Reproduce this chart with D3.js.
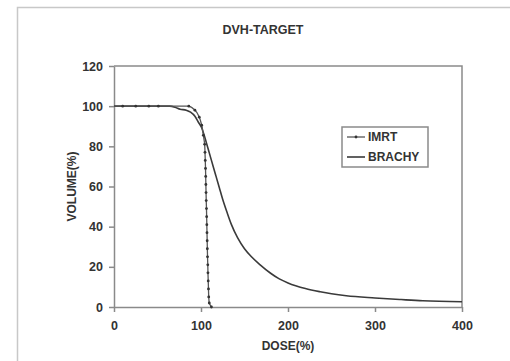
<!DOCTYPE html>
<html>
<head>
<meta charset="utf-8">
<script src="https://cdn.jsdelivr.net/npm/d3@7"></script>
<style>
	body { margin: 0; background: #fff; }
	text { font-family: "Liberation Sans", Arial, sans-serif; fill: #333; }
</style>
</head>
<body>
<div id="chart"></div>
<script>
// IMRT curve (dose %, volume %)
const imrtDose = [0, 10, 25, 40, 51, 86, 93, 98, 100.8, 102.7, 104.2, 104.6, 104.9, 105.2, 105.4, 105.6, 105.8, 106.0, 106.3, 106.5, 106.7, 106.9, 107.1, 107.3, 107.5, 107.8, 108.0, 108.3, 108.6, 108.9, 109.5, 112];
const imrtVolume = [100, 100, 100, 100, 100, 100, 98, 94.5, 90.5, 85.5, 81, 77, 73, 69, 65, 61, 57, 53, 49, 45, 41, 37, 33, 29, 25, 21, 17, 13, 9, 5, 2, 0];

// BRACHY curve
const brachyDose = [0, 64, 70, 76, 83, 88, 93, 97, 101, 104, 108, 112, 117, 121, 125, 130, 135, 142, 150, 158, 168, 180, 190, 200, 220, 237, 250, 267, 300, 330, 355, 400];
const brachyVolume = [100, 100, 99.5, 98.5, 98, 97, 95, 92, 89, 85, 79, 73, 65.5, 59.5, 53.5, 47, 41, 34.5, 29, 25, 21, 16.8, 14, 12, 9.2, 7.6, 6.6, 5.6, 4.5, 3.7, 3.1, 2.6];

const xTicks = [0, 100, 200, 300, 400];
const yTicks = [0, 20, 40, 60, 80, 100, 120];
const seriesNames = ["IMRT", "BRACHY"];

const width = 510, height = 361;
const margin = { top: 66, right: 48, bottom: 54, left: 114 };

const svg = d3
	.select("#chart")
	.append("svg")
	.attr("width", width)
	.attr("height", height);

//outer frame of the picture
svg.append("path")
	.attr("d", `M17.5,${height} V7.5 H${width}`)
	.attr("fill", "none")
	.attr("stroke", "#c8c8c8")
	.attr("stroke-width", 1.5);

const x = d3.scaleLinear().domain([0, 400]).range([margin.left, width - margin.right]);
const y = d3.scaleLinear().domain([0, 120]).range([height - margin.bottom, margin.top]);

const axisColor = "#8a8a8a";

// plot frame (top + right)
svg.append("path")
	.attr("d", `M${x(0)},${y(120)} H${x(400)} V${y(0)}`)
	.attr("fill", "none")
	.attr("stroke", axisColor)
	.attr("stroke-width", 1.5);

const xAxis = svg.append("g")
	.attr("transform", `translate(0,${y(0)})`)
	.call(d3.axisBottom(x).tickValues(xTicks).tickSize(5).tickPadding(9).tickSizeOuter(0));

const yAxis = svg.append("g")
	.attr("transform", `translate(${x(0)},0)`)
	.call(d3.axisLeft(y).tickValues(yTicks).tickSize(5).tickPadding(6).tickSizeOuter(0));

[xAxis, yAxis].forEach(g => {
	g.select(".domain").attr("stroke", axisColor).attr("stroke-width", 1.5);
	g.selectAll(".tick line").attr("stroke", axisColor).attr("stroke-width", 1.5);
	g.selectAll(".tick text")
		.attr("fill", "#333")
		.style("font-family", "Liberation Sans, Arial, sans-serif")
		.style("font-size", "12.5px")
		.style("font-weight", "bold");
});

const lineColor = "#3a3a3a";

const brachyData = brachyDose.map((d, i) => [d, brachyVolume[i]]);
const imrtData = imrtDose.map((d, i) => [d, imrtVolume[i]]);

svg.append("path")
	.datum(brachyData)
	.attr("d", d3.line().x(d => x(d[0])).y(d => y(d[1])).curve(d3.curveMonotoneX))
	.attr("fill", "none")
	.attr("stroke", lineColor)
	.attr("stroke-width", 1.6);

svg.append("path")
	.datum(imrtData)
	.attr("d", d3.line().x(d => x(d[0])).y(d => y(d[1])).curve(d3.curveMonotoneY))
	.attr("fill", "none")
	.attr("stroke", "#555")
	.attr("stroke-width", 1.3);

svg.append("g")
	.selectAll("circle")
	.data(imrtData.slice(1))
	.enter()
	.append("circle")
	.attr("cx", d => x(d[0]))
	.attr("cy", d => y(d[1]))
	.attr("r", 1.4)
	.attr("fill", "#333");

// titles
svg.append("text")
	.attr("x", 263)
	.attr("y", 34)
	.attr("text-anchor", "middle")
	.style("font-size", "12.5px")
	.style("font-weight", "bold")
	.text("DVH-TARGET");

svg.append("text")
	.attr("x", 288)
	.attr("y", 350)
	.attr("text-anchor", "middle")
	.style("font-size", "12px")
	.style("font-weight", "bold")
	.text("DOSE(%)");

svg.append("text")
	.attr("transform", `translate(76,${(y(0) + y(120)) / 2}) rotate(-90)`)
	.attr("text-anchor", "middle")
	.style("font-size", "12px")
	.style("font-weight", "bold")
	.text("VOLUME(%)");

// legend
const legend = svg.append("g").attr("transform", "translate(342,127)");

legend.append("rect")
	.attr("width", 86)
	.attr("height", 40)
	.attr("fill", "#fff")
	.attr("stroke", axisColor)
	.attr("stroke-width", 1.5);

const legendItems = legend.selectAll("g.item")
	.data(seriesNames)
	.enter()
	.append("g")
	.attr("class", "item")
	.attr("transform", (d, i) => `translate(0,${10 + i * 20})`);

legendItems.append("line")
	.attr("x1", 5)
	.attr("x2", 23)
	.attr("stroke", (d, i) => i === 0 ? "#555" : lineColor)
	.attr("stroke-width", (d, i) => i === 0 ? 1.3 : 1.6);

legendItems.filter((d, i) => i === 0)
	.append("circle")
	.attr("cx", 14)
	.attr("r", 1.4)
	.attr("fill", "#333");

legendItems.append("text")
	.attr("x", 26)
	.attr("dy", "0.35em")
	.style("font-size", "12px")
	.style("font-weight", "bold")
	.text(d => d);
</script>
</body>
</html>
